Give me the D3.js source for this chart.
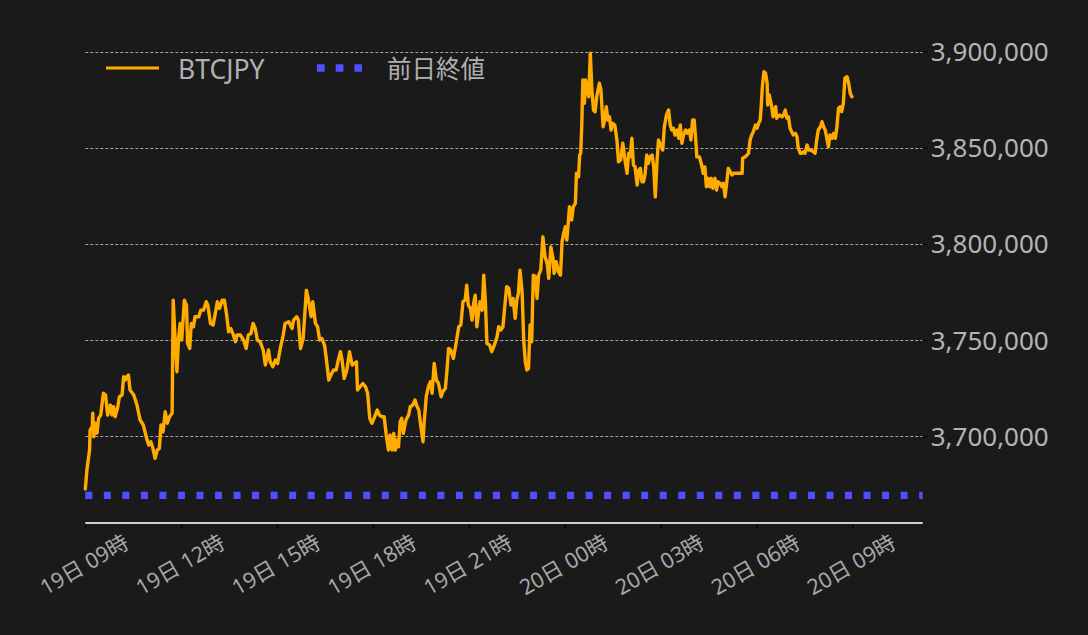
<!DOCTYPE html>
<html>
<head>
<meta charset="utf-8">
<script src="https://cdn.jsdelivr.net/npm/d3@7"></script>
<style>
  html, body { margin: 0; padding: 0; background: #1a1a1a; }
  svg { display: block; }
  text { font-family: "Noto Sans", "Noto Sans CJK JP", sans-serif; }
</style>
</head>
<body>
<svg id="chart" width="1088" height="635"></svg>
<script>
// ---- data ----
const seriesName = "BTCJPY";
const refName = "前日終値";
// minutes elapsed since 19日 09:00
const minutesFrom0900 = [
0,3,8,9,13,14,16,19,22,25,29,34,38,42,47,50,53,56,61,64,
69,72,75,78,81,84,91,97,103,109,116,119,123,127,131,135,139,142,146,150,
154,158,163,165,168,172,175,178,181,186,190,192,196,199,203,206,213,217,222,227,
230,235,240,244,248,252,257,261,265,269,273,278,282,285,291,297,302,306,311,315,
319,323,328,334,338,344,347,352,357,361,366,371,375,382,388,391,397,400,404,409,
415,419,424,427,432,436,440,444,449,452,457,461,466,471,475,479,482,486,491,496,
501,505,509,511,516,521,526,530,534,538,542,548,552,557,561,565,569,572,576,579,
582,585,588,591,594,597,602,607,610,615,619,623,626,630,634,636,640,644,648,651,
655,659,663,668,671,676,679,682,686,691,696,701,705,709,713,716,719,723,726,729,
732,735,738,741,745,748,751,754,759,763,768,773,776,780,784,788,791,795,799,803,
807,810,813,816,820,823,826,829,832,835,838,841,845,848,851,855,859,863,867,870,
874,878,880,884,888,892,895,898,901,904,909,913,916,920,922,926,928,930,932,934,
937,939,942,945,948,951,954,957,960,965,968,972,975,978,981,984,987,990,994,998,
1001,1005,1009,1014,1017,1020,1023,1026,1029,1032,1036,1039,1042,1045,1048,1051,1054,1057,1060,1064,
1067,1070,1073,1076,1081,1084,1087,1091,1095,1098,1101,1104,1107,1111,1114,1117,1120,1123,1127,1130,
1134,1137,1140,1143,1146,1148,1153,1157,1160,1163,1166,1169,1172,1175,1178,1182,1185,1188,1192,1195,
1198,1201,1204,1207,1211,1214,1217,1223,1229,1233,1234,1239,1242,1245,1248,1251,1254,1258,1261,1264,
1267,1269,1271,1274,1277,1280,1281,1284,1288,1291,1293,1296,1298,1303,1308,1311,1314,1317,1320,1323,
1326,1329,1333,1336,1338,1342,1345,1348,1351,1355,1358,1361,1367,1370,1373,1376,1380,1383,1386,1389,
1392,1395,1398,1402,1405,1408,1411,1414,1417,1420,1423,1426,1430,1433,1436,1439
];
const prices = [
3672600,3682500,3692900,3703300,3705000,3712000,3699800,3706900,3701700,3709500,3711100,3722400,3721500,3711100,3716300,3711100,3715400,3710200,3715400,3720600,
3721500,3731000,3729300,3731000,3731900,3724100,3721500,3716300,3708500,3705900,3698100,3695500,3697200,3693800,3688600,3692900,3693800,3705900,3702400,3712800,
3706800,3710200,3712000,3770800,3753500,3733600,3750900,3758700,3750100,3770800,3768200,3748300,3745700,3758700,3757000,3762200,3762200,3765600,3765600,3770000,
3768200,3758700,3757900,3763900,3770000,3766500,3770800,3770800,3763900,3754400,3756100,3752700,3749200,3752700,3752700,3750100,3745700,3752700,3753500,3758700,
3756100,3750100,3749200,3744900,3737100,3744900,3738800,3736200,3739700,3737900,3745700,3751800,3758700,3759600,3756100,3760400,3762200,3760400,3745700,3750900,
3776000,3770800,3762200,3770000,3758700,3757000,3750100,3750900,3747500,3741400,3729300,3731900,3734500,3734500,3739700,3744000,3739700,3730100,3734500,3744000,
3737100,3737900,3738800,3724100,3725800,3727500,3725800,3722400,3709400,3706800,3709400,3713700,3711100,3710200,3710200,3700700,3692900,3700700,3692900,3701600,
3692900,3698100,3694600,3707600,3709400,3701600,3708500,3711100,3715400,3716300,3718900,3715400,3713700,3705000,3697200,3706800,3720600,3725800,3728400,3722400,
3737900,3729300,3727500,3720600,3723200,3725000,3734500,3745700,3744900,3740500,3748300,3757000,3757900,3770000,3770800,3778600,3768200,3766500,3760400,3769100,
3773400,3757000,3763900,3770000,3765600,3783800,3770000,3748300,3747500,3744000,3747500,3751800,3757000,3755300,3757000,3769100,3777800,3776900,3768200,3771700,
3761300,3770800,3774300,3786400,3775200,3750100,3738800,3734500,3735300,3757900,3749200,3783800,3783000,3771700,3783800,3786400,3803700,3793400,3789900,3782100,
3798500,3792500,3784700,3790800,3785600,3783800,3801100,3805500,3808900,3802000,3819300,3812400,3819300,3821100,3836700,3834900,3846200,3847100,3861800,3885200,
3873100,3885200,3880000,3876500,3899100,3880000,3869600,3868700,3876500,3883500,3880000,3860900,3864400,3871300,3864400,3866100,3859200,3862700,3861800,3854000,
3842700,3843600,3852300,3841900,3836700,3847100,3845300,3854900,3841000,3840100,3830600,3838400,3839300,3832300,3832300,3836700,3846200,3841900,3845300,3846200,
3840100,3824500,3841900,3854000,3850500,3848800,3860900,3867000,3869600,3861800,3859200,3860100,3856600,3859200,3854900,3861800,3852300,3856600,3859200,3857500,
3859200,3854000,3864400,3864400,3854000,3845300,3845200,3841000,3836700,3840000,3829700,3834100,3829700,3834100,3828900,3834100,3828000,3832300,3831500,3829700,
3831500,3824500,3831500,3839300,3837500,3835800,3836700,3836700,3836700,3836700,3844500,3845300,3846200,3847100,3854000,3856600,3858300,3861800,3860100,3862700,
3864400,3872200,3881700,3889500,3888700,3883500,3872200,3877400,3872200,3866100,3868700,3871300,3865300,3867000,3866100,3867000,3869600,3865300,3866100,3860100,
3858300,3856600,3857500,3855700,3850500,3847100,3847100,3847900,3847100,3851400,3848800,3848800,3847900,3847100,3854000,3859200,3860900,3863500,3860900,3859200,
3854900,3850500,3856600,3854900,3857500,3854900,3860900,3870500,3871300,3868700,3873100,3886100,3886900,3883500,3878300,3876500
];
const previousClose = 3669400;
const yTickValues = [3700000, 3750000, 3800000, 3850000, 3900000];
const xTickMinutes = [0, 180, 360, 540, 720, 900, 1080, 1260, 1440];
const xTickLabels = ["19日 09時","19日 12時","19日 15時","19日 18時","19日 21時","20日 00時","20日 03時","20日 06時","20日 09時"];
const xDomain = [0, 1572];
const yDomain = [3655000, 3900000];

// ---- chart ----
const svg = d3.select("#chart");
const left = 85.3, right = 922.7, bottom = 523, yTopPx = 51.5;
const x = d3.scaleLinear().domain(xDomain).range([left, right]);
const y = d3.scaleLinear().domain(yDomain).range([bottom, yTopPx]);

const n = Math.min(minutesFrom0900.length, prices.length);
const data = d3.range(n).map(i => ({ t: minutesFrom0900[i], v: prices[i] }));

// grid lines (dashed)
const grid = svg.append("g");
grid.selectAll("line.grid").data(yTickValues).join("line")
  .attr("class", "grid")
  .attr("x1", left).attr("x2", right)
  .attr("y1", d => Math.round(y(d)) + 0.5).attr("y2", d => Math.round(y(d)) + 0.5)
  .attr("stroke", "#a8a8a8").attr("stroke-width", 1).attr("stroke-dasharray", "3,2");

// right y axis
const yAxis = d3.axisRight(y).tickValues(yTickValues).tickFormat(d3.format(",")).tickSize(5).tickPadding(3);
const ya = svg.append("g").attr("transform", `translate(${right},0)`).call(yAxis);
ya.select(".domain").remove();
ya.selectAll(".tick line").attr("stroke", "#000").attr("stroke-width", 1);
ya.selectAll(".tick text").attr("fill", "#b4b4b4").attr("font-size", 26)
  .attr("font-family", '"Noto Sans", sans-serif').attr("dy", "0.34em");

// bottom x axis
const xAxis = d3.axisBottom(x).tickValues(xTickMinutes).tickSize(6)
  .tickFormat((d, i) => xTickLabels[i]);
const xa = svg.append("g").attr("transform", `translate(0,${bottom})`).call(xAxis);
xa.select(".domain").remove();
xa.selectAll(".tick line").attr("stroke", "#000").attr("stroke-width", 1);
xa.selectAll(".tick text")
  .attr("fill", "#a8a8a8").attr("font-size", 21.5)
  .attr("text-anchor", "middle").attr("dominant-baseline", "central")
  .attr("y", 0).attr("dy", 0)
  .attr("transform", "translate(-2,41) rotate(-30)");
svg.append("line")
  .attr("x1", left).attr("x2", right).attr("y1", bottom).attr("y2", bottom)
  .attr("stroke", "#cfcfcf").attr("stroke-width", 2);

// previous close dotted line
svg.append("line")
  .attr("x1", x(xDomain[0])).attr("x2", x(xDomain[1]))
  .attr("y1", y(previousClose)).attr("y2", y(previousClose))
  .attr("stroke", "#4f4fff").attr("stroke-width", 7.3)
  .attr("stroke-dasharray", "7,11.53");

// price line
const line = d3.line().x(d => x(d.t)).y(d => y(d.v)).curve(d3.curveLinear);
svg.append("path").datum(data)
  .attr("d", line).attr("fill", "none")
  .attr("stroke", "#ffab00").attr("stroke-width", 3.4)
  .attr("stroke-linejoin", "round").attr("stroke-linecap", "round");

// legend
const lg = svg.append("g");
lg.append("line").attr("x1", 106).attr("x2", 159).attr("y1", 68).attr("y2", 68)
  .attr("stroke", "#ffab00").attr("stroke-width", 3.2);
lg.append("text").attr("x", 178).attr("y", 78.5).text(seriesName)
  .attr("fill", "#b0b0b0").attr("font-size", 26.5);
lg.append("line").attr("x1", 317).attr("x2", 362).attr("y1", 68).attr("y2", 68)
  .attr("stroke", "#4f4fff").attr("stroke-width", 7.3).attr("stroke-dasharray", "7.7,11");
lg.append("text").attr("x", 387).attr("y", 78).text(refName)
  .attr("fill", "#b0b0b0").attr("font-size", 24.5)
  .attr("font-family", '"Noto Sans CJK JP", sans-serif');
</script>
</body>
</html>
